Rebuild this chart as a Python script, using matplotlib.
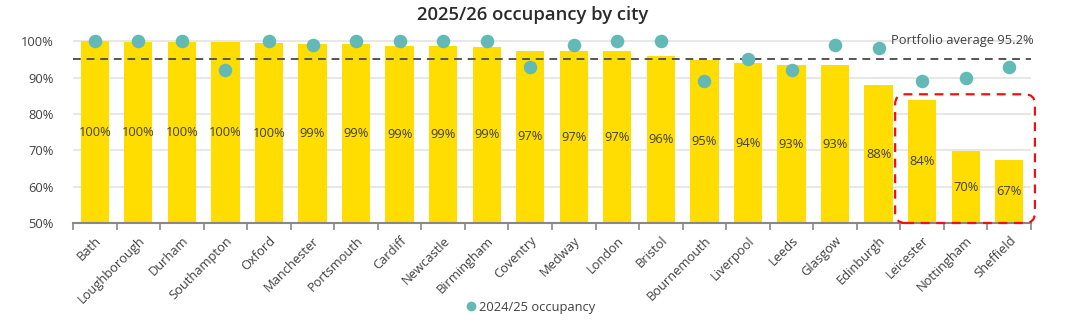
import matplotlib
matplotlib.use("Agg")
import matplotlib.pyplot as plt
from matplotlib.patches import FancyBboxPatch
from matplotlib.lines import Line2D
import numpy as np

plt.rcParams['font.family'] = ['Open Sans', 'DejaVu Sans']

cities = ["Bath", "Loughborough", "Durham", "Southampton", "Oxford", "Manchester",
          "Portsmouth", "Cardiff", "Newcastle", "Birmingham", "Coventry", "Medway",
          "London", "Bristol", "Bournemouth", "Liverpool", "Leeds", "Glasgow",
          "Edinburgh", "Leicester", "Nottingham", "Sheffield"]
occ_2526 = [100.0, 99.9, 99.9, 99.9, 99.5, 99.3, 99.3, 98.8, 98.8, 98.5, 97.4, 97.2,
            97.2, 95.9, 94.8, 94.0, 93.4, 93.4, 87.9, 83.7, 69.8, 67.2]
bar_labels = ["100%", "100%", "100%", "100%", "100%", "99%", "99%", "99%", "99%", "99%",
              "97%", "97%", "97%", "96%", "95%", "94%", "93%", "93%", "88%", "84%", "70%", "67%"]
occ_2425 = [100, 100, 100, 92, 100, 99, 100, 100, 100, 100, 93, 99,
            100, 100, 89, 95, 92, 99, 98, 89, 90, 93]
portfolio_avg = 95.2
yticks = [50, 60, 70, 80, 90, 100]

YELLOW = "#FFDD00"
TEAL = "#62B9B5"
TXT = "#404040"

fig = plt.figure(figsize=(10.65, 3.22), dpi=100)
ax = fig.add_axes([73/1065, 1-223/322, (1031-73)/1065, (223-30.3)/322])

x = np.arange(len(cities))
ymin = 50
ax.bar(x, np.array(occ_2526) - ymin, bottom=ymin, width=0.65, color=YELLOW, zorder=2)
for xi, v, lab in zip(x, occ_2526, bar_labels):
    ax.text(xi, (v + ymin) / 2, lab, ha="center", va="center", fontsize=9.3, color=TXT, zorder=4)

ax.scatter(x, occ_2425, s=95, color=TEAL, zorder=5, linewidths=0)
ax.axhline(portfolio_avg, color="#555555", linestyle=(0, (4, 3)), linewidth=1.4, zorder=3)
ax.text(21.57, 100.1, "Portfolio average 95.2%", ha="right", va="center",
        fontsize=9.3, color=TXT, zorder=6, clip_on=False)

ax.set_xlim(-0.5, len(cities) - 0.5)
ax.set_ylim(ymin, 103)
ax.set_yticks(yticks)
ax.set_yticklabels([f"{t}%" for t in yticks], fontsize=9.3, color=TXT)
for t in yticks:
    ax.axhline(t, color="#E3E3E3", linewidth=1.2, zorder=0)
ax.tick_params(axis="y", length=0, pad=14)

ax.set_xticks(x)
ax.set_xticklabels(cities, rotation=45, ha="right", rotation_mode="anchor",
                   fontsize=9.3, color=TXT)
ax.tick_params(axis="x", which="major", length=0, pad=8)
ax.set_xticks(np.arange(-0.5, len(cities)), minor=True)
ax.tick_params(axis="x", which="minor", length=5, color="#888888", width=1.2)

for s in ["top", "right", "left"]:
    ax.spines[s].set_visible(False)
ax.spines["bottom"].set_color("#888888")
ax.spines["bottom"].set_linewidth(1.5)
ax.spines["bottom"].set_zorder(6)

# red dashed highlight box around last three bars
box = FancyBboxPatch((18.38, 50.0), 21.59 - 18.38, 85.4 - 50.0,
                     boxstyle="round,pad=0,rounding_size=0.23",
                     mutation_aspect=11.87, transform=ax.transData,
                     fill=False, edgecolor="#EE1111", linestyle=(0, (4, 3)),
                     linewidth=1.6, clip_on=False, zorder=7)
ax.add_patch(box)

fig.text(0.5, 1 - 15/322, "2025/26 occupancy by city", ha="center", va="center",
         fontsize=13.3, fontweight="semibold", color="#2b2b2b")

handle = Line2D([], [], marker="o", linestyle="none", markersize=7,
                markerfacecolor=TEAL, markeredgewidth=0)
fig.legend([handle], ["2024/25 occupancy"], loc="center", bbox_to_anchor=(0.497, 1 - 307/322),
           frameon=False, fontsize=9.3, handletextpad=0.0, handlelength=1.2, labelcolor=TXT)

fig.savefig("out.png", dpi=100)
